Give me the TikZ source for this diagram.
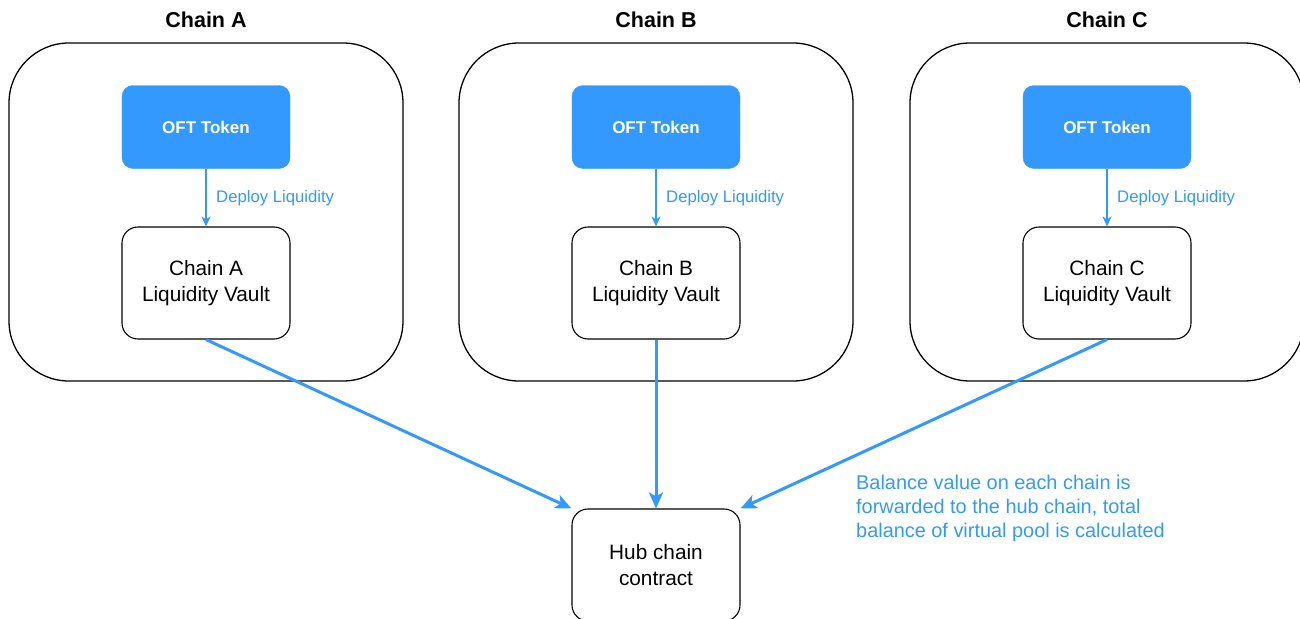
\documentclass[tikz,border=0pt]{standalone}
\usepackage{fontspec}
\setmainfont{Liberation Sans}
\usetikzlibrary{arrows.meta,calc}
\definecolor{dblue}{RGB}{51,153,255}
\tikzset{
  chainbox/.style={draw=black,line width=1.3pt,rounded corners=60pt,minimum width=394pt,minimum height=338pt,inner sep=0pt},
  tokenbox/.style={fill=dblue,draw=dblue,rounded corners=11pt,minimum width=168pt,minimum height=83pt,inner sep=0pt,text=white,font=\fontsize{17}{20}\selectfont\bfseries},
  vaultbox/.style={draw=black,line width=1.1pt,rounded corners=16pt,minimum width=168pt,minimum height=112pt,inner sep=0pt,align=center,font=\fontsize{20.8}{26}\selectfont},
  titletext/.style={font=\fontsize{21.5}{26}\selectfont\bfseries},
  deployarrow/.style={draw=dblue,line width=1.1pt,-{Stealth[length=10pt,width=9pt,inset=3pt]}},
  hubarrow/.style={draw=dblue,line width=3pt,-{Stealth[length=16pt,width=14pt,inset=4pt]}},
  deploylabel/.style={text=dblue,font=\fontsize{16.7}{20}\selectfont,anchor=west,inner sep=0pt},
}
\begin{document}
\begin{tikzpicture}[x=1pt,y=-1pt]
\useasboundingbox (0,0) rectangle (1300,618);
\clip (0,0) rectangle (1300,618);
\foreach \n/\cx in {A/206,B/656,C/1107}{
  \node[titletext] (title\n) at (\cx,20) {Chain \n};
  \node[chainbox] (outer\n) at (\cx,212) {};
  \node[tokenbox] (token\n) at (\cx,127) {OFT Token};
  \node[vaultbox] (vault\n) at (\cx,283) {Chain \n\\Liquidity Vault};
  \draw[deployarrow] (token\n.south) -- (vault\n.north);
  \node[deploylabel] (deploy\n) at (\cx+10,198) {Deploy Liquidity};
}
\node[vaultbox] (hub) at (656,565) {Hub chain\\contract};
\draw[hubarrow] (vaultA.south) -- (hub.north west);
\draw[hubarrow] (vaultB.south) -- (hub.north);
\draw[hubarrow] (vaultC.south) -- (hub.north east);
\node[text=dblue,anchor=north west,align=left,inner sep=0pt,font=\fontsize{19.9}{24}\selectfont] (note) at (856,475) {Balance value on each chain is\\forwarded to the hub chain, total\\balance of virtual pool is calculated};
\end{tikzpicture}
\end{document}
